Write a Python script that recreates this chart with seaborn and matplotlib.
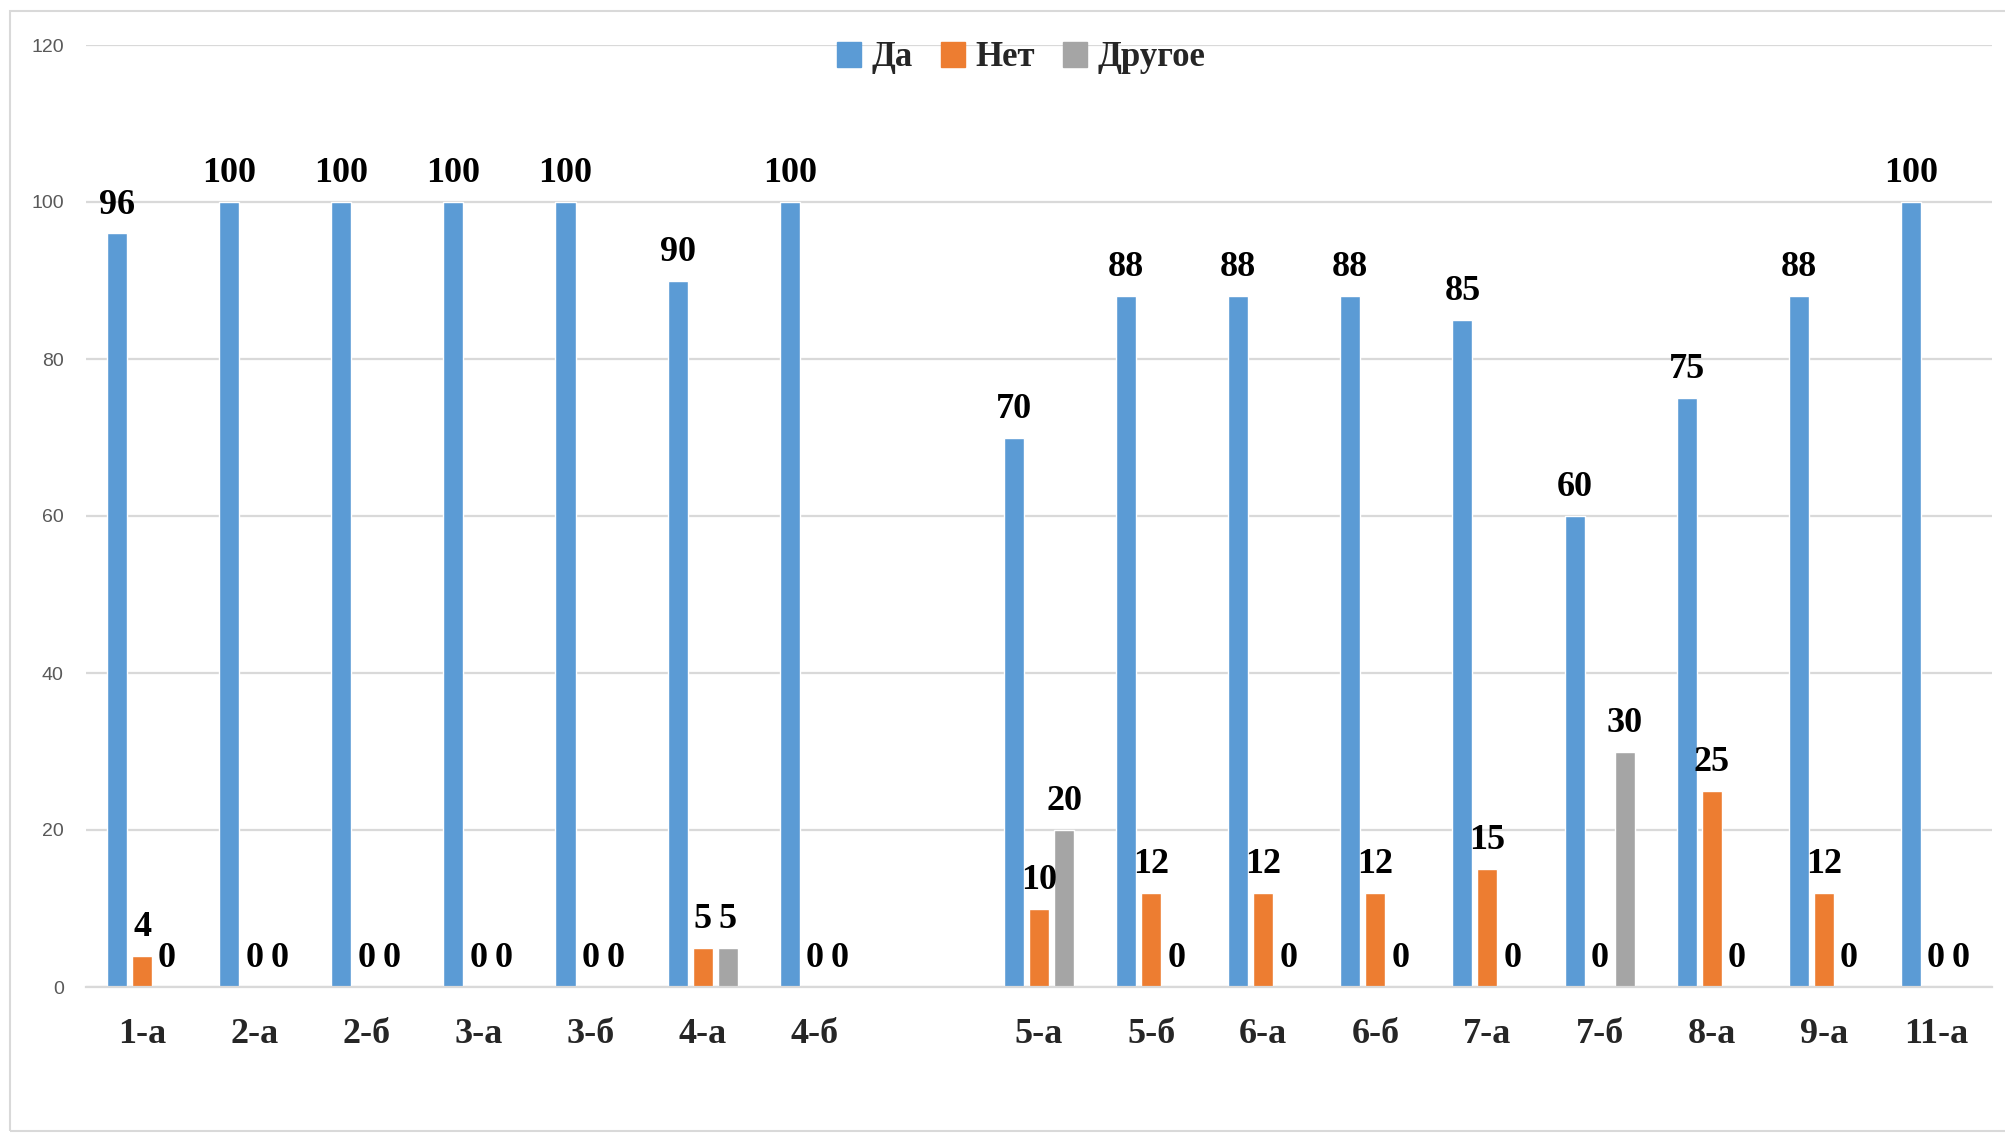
# Survey answers by class: grouped bar chart (Да / Нет / Другое)

import numpy as np
import pandas as pd
import seaborn as sns
import matplotlib.pyplot as plt
from matplotlib.patches import Rectangle


# Data ...........................................................................................

classes = ["1-а", "2-а", "2-б", "3-а", "3-б", "4-а", "4-б", " ",
           "5-а", "5-б", "6-а", "6-б", "7-а", "7-б", "8-а", "9-а", "11-а"]
yes   = [96, 100, 100, 100, 100, 90, 100, np.nan, 70, 88, 88, 88, 85, 60, 75, 88, 100]
no    = [4, 0, 0, 0, 0, 5, 0, np.nan, 10, 12, 12, 12, 15, 0, 25, 12, 0]
other = [0, 0, 0, 0, 0, 5, 0, np.nan, 20, 0, 0, 0, 0, 30, 0, 0, 0]
series = ["Да", "Нет", "Другое"]
colors = ["#5B9BD5", "#ED7D31", "#A5A5A5"]

df = pd.DataFrame({"class": classes, "Да": yes, "Нет": no, "Другое": other})
long = df.melt(id_vars = "class", var_name = "answer", value_name = "percent")
long = long.dropna()


# Plot ...........................................................................................

sns.set_style("white")
serif = ["Liberation Serif", "DejaVu Serif"]
plt.rcParams["font.family"] = ["Liberation Sans", "DejaVu Sans"]

fig = plt.figure(figsize = (20.06, 11.33), dpi = 100)
ax = fig.add_axes([86 / 2006, 146 / 1133, (1992 - 86) / 2006, (1088 - 146) / 1133])

sns.barplot(data = long, x = "class", y = "percent", hue = "answer",
            order = classes, hue_order = series, palette = colors, saturation = 1,
            width = 0.67, gap = 0.2, edgecolor = "white", linewidth = 1,
            errorbar = None, legend = False, ax = ax)

# value labels above every bar (zeros too)
for container in ax.containers:
    ax.bar_label(container, fmt = "%g", padding = 8.5, fontsize = 26,
                 fontweight = "bold", family = serif, color = "black")

ax.set_ylim(0, 120)
ax.set_yticks(range(0, 121, 20))
ax.set_xlim(-0.5, len(classes) - 0.5)
ax.grid(axis = "y", color = "#D9D9D9", linewidth = 1.6)
ax.set_axisbelow(True)
for side in ["left", "right", "top"]:
    ax.spines[side].set_visible(False)
ax.spines["bottom"].set_color("#D9D9D9")
ax.spines["bottom"].set_linewidth(1.6)
ax.tick_params(axis = "both", length = 0)
ax.tick_params(axis = "y", labelsize = 14, labelcolor = "#595959", pad = 16)
ax.tick_params(axis = "x", pad = 22)
for lab in ax.get_xticklabels():
    lab.set_fontfamily(serif)
    lab.set_fontsize(26)
    lab.set_fontweight("bold")
ax.set_xlabel("")
ax.set_ylabel("")

# legend at the top
handles = [Rectangle((0, 0), 1, 1, color = c) for c in colors]
fig.legend(handles, series, loc = "center", bbox_to_anchor = (1021 / 2006, 1 - 58 / 1133),
           ncol = 3, frameon = False, handlelength = 0.7, handleheight = 0.7,
           handletextpad = 0.3, columnspacing = 0.8,
           prop = {"family": serif, "size": 25, "weight": "bold"})

# thin frame round the chart
fig.patches.append(Rectangle((10 / 2006, 2 / 1133), 1.2, 1 - 13 / 1133,
                             transform = fig.transFigure, fill = False,
                             edgecolor = "#D9D9D9", linewidth = 1.5))

fig.savefig("out.png", dpi = 100)
